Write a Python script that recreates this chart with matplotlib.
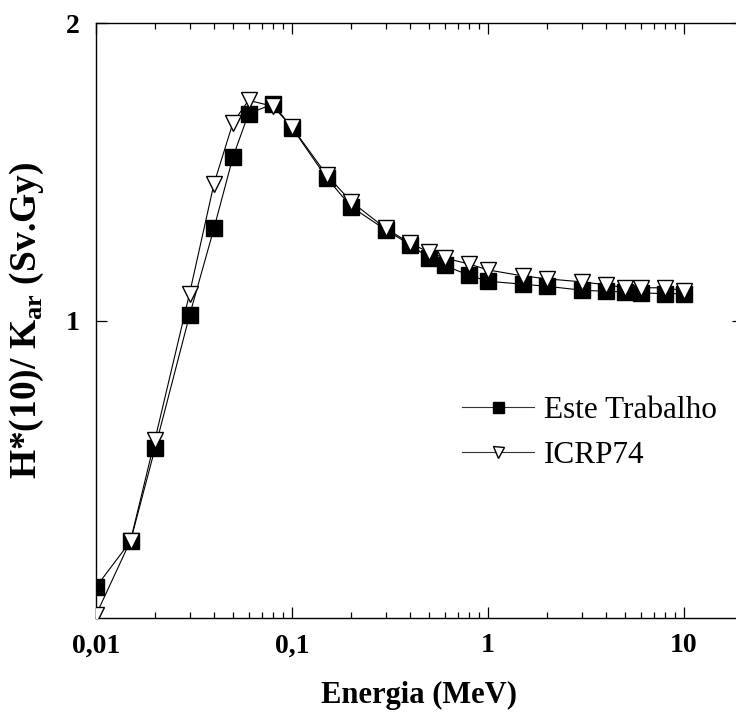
import matplotlib
matplotlib.use("Agg")
import matplotlib.pyplot as plt
from matplotlib.ticker import FixedLocator, FixedFormatter, LogLocator, NullFormatter

# energies (MeV) and H*(10)/Kar (Sv/Gy)
energy = [0.01, 0.015, 0.02, 0.03, 0.04, 0.05, 0.06, 0.08, 0.1, 0.15, 0.2, 0.3,
          0.4, 0.5, 0.6, 0.8, 1, 1.5, 2, 3, 4, 5, 6, 8, 10]
este_trabalho = [0.104, 0.258, 0.57, 1.017, 1.31, 1.55, 1.695, 1.728, 1.648, 1.48, 1.383, 1.305,
                 1.255, 1.21, 1.185, 1.152, 1.132, 1.122, 1.115, 1.102, 1.098, 1.096, 1.093, 1.09, 1.09]
icrp74 = [0.01, 0.26, 0.60, 1.09, 1.46, 1.665, 1.74, 1.72, 1.65, 1.49, 1.40, 1.31,
          1.26, 1.23, 1.21, 1.19, 1.17, 1.15, 1.14, 1.13, 1.12, 1.11, 1.11, 1.11, 1.10]

xticks = [0.01, 0.1, 1, 10]
xtick_labels = ["0,01", "0,1", "1", "10"]
yticks = [1, 2]
ytick_labels = ["1", "2"]

plt.rcParams.update({
    "font.family": "Liberation Serif",
    "mathtext.fontset": "custom",
    "mathtext.rm": "Liberation Serif:bold",
    "mathtext.bf": "Liberation Serif:bold",
})

W, H = 736, 713
fig = plt.figure(figsize=(W / 100, H / 100), dpi=100)
# axes box in pixels: left 96, right 743 (runs just past the edge), top 23, bottom 618
ax = fig.add_axes([96 / W, 1 - 618 / H, (743 - 96) / W, (618 - 23) / H])

ax.plot(energy, este_trabalho, color="black", lw=0.8, marker="s", ms=11,
        mfc="black", mec="black", label="Este Trabalho", zorder=3)
ax.plot(energy, icrp74, color="black", lw=0.8, marker="v", ms=11,
        mfc="white", mec="black", mew=1.0, label="ICRP74", zorder=4)

ax.set_xscale("log")
ax.set_xlim(0.01, 20)
ax.set_ylim(0, 2)

ax.xaxis.set_major_locator(FixedLocator(xticks))
ax.xaxis.set_major_formatter(FixedFormatter(xtick_labels))
ax.xaxis.set_minor_locator(LogLocator(base=10, subs=range(2, 10)))
ax.xaxis.set_minor_formatter(NullFormatter())
ax.yaxis.set_major_locator(FixedLocator(yticks))
ax.yaxis.set_major_formatter(FixedFormatter(ytick_labels))

ax.tick_params(which="both", direction="in", top=True, right=True, width=0.9)
ax.tick_params(which="major", length=8, labelsize=20)
ax.tick_params(axis="x", which="major", pad=11)
ax.tick_params(axis="y", which="major", pad=12)
ax.tick_params(which="minor", length=4.3)
for lab in ax.get_xticklabels() + ax.get_yticklabels():
    lab.set_fontweight("bold")
for s in ax.spines.values():
    s.set_linewidth(1.0)

ax.set_xlabel("Energia (MeV)", fontsize=22, fontweight="bold")
ax.xaxis.set_label_coords(0.5, -0.105)
ax.set_ylabel(r"H*(10)/ K$_{\mathbf{ar}}$ (Sv.Gy)", fontsize=27, fontweight="bold")
ax.yaxis.set_label_coords(-0.078, 0.5)

leg = ax.legend(loc="center left", bbox_to_anchor=(462 / W, 1 - 433 / H),
                bbox_transform=fig.transFigure, frameon=False, fontsize=22.5,
                handlelength=2.3, handletextpad=0.33, labelspacing=0.5,
                borderpad=0, borderaxespad=0, markerscale=0.72)
for h in leg.get_lines():
    h.set_color("#333333")
    h.set_markeredgecolor("black")

fig.savefig("out.png", dpi=100)
